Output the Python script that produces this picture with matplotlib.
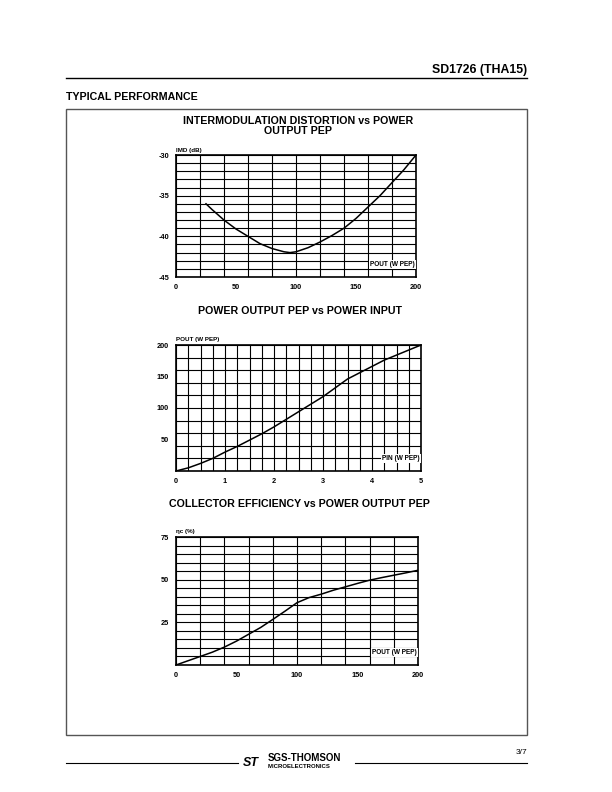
import matplotlib.pyplot as plt
from matplotlib.lines import Line2D
from matplotlib.patches import Rectangle

plt.rcParams['font.family'] = ['Liberation Sans', 'DejaVu Sans']

# IMD vs Pout
imd_pout = [25, 30, 40, 50, 60, 70, 80, 90, 95, 100, 110, 120, 130, 140, 150,
            160, 170, 180, 190, 200]
imd_db = [-36, -36.7, -38, -39.1, -40, -40.9, -41.5, -41.9, -42, -41.9, -41.4,
          -40.7, -39.9, -39, -37.8, -36.4, -35, -33.4, -31.8, -30]

# Pout vs Pin
pin_w = [0, 0.25, 0.5, 0.75, 1, 1.25, 1.5, 1.75, 2, 2.25, 2.5, 2.75, 3, 3.25,
         3.5, 3.75, 4, 4.25, 4.5, 4.75, 5]
pout_w = [0, 5, 12, 20, 30, 39, 49, 59, 70, 82, 94, 106, 118, 132, 146, 156,
          166, 176, 184, 192, 200]

# collector efficiency vs Pout
eff_pout = [0, 10, 20, 30, 40, 50, 60, 70, 80, 90, 100, 110, 120, 130, 140,
            150, 160, 170, 180, 190, 200]
eff_pct = [0, 2.5, 5, 7.5, 10.5, 14, 18, 22, 26.7, 31.5, 36.5, 39.5, 41.5,
           43.8, 45.8, 47.8, 49.7, 51.2, 52.6, 54, 55.5]

W, H = 612, 792
fig = plt.figure(figsize=(W / 100, H / 100), dpi=100)


def box(l, t, r, b):
    return [l / W, 1 - b / H, (r - l) / W, (b - t) / H]


def fx(x):
    return x / W


def fy(y):
    return 1 - y / H


def chart(rect, x, y, xlim, ylim, xstep, ystep, xticks, yticks, ylab, xlab, title, ty):
    ax = fig.add_axes(box(*rect))
    ax.plot(x, y, color='black', lw=1.1)
    ax.set_xlim(xlim)
    ax.set_ylim(ylim)
    v = xlim[0]
    while v <= xlim[1] + 1e-9:
        ax.axvline(v, color='black', lw=0.8)
        v += xstep
    v = ylim[0]
    while v <= ylim[1] + 1e-9:
        ax.axhline(v, color='black', lw=0.8)
        v += ystep
    ax.set_xticks(xticks)
    ax.set_yticks(yticks)
    ax.set_xticklabels([str(t) for t in xticks], fontsize=5.3, fontweight='bold')
    ax.set_yticklabels([str(t) for t in yticks], fontsize=5.3, fontweight='bold')
    ax.tick_params(length=0, pad=5)
    for s in ax.spines.values():
        s.set_linewidth(1.2)
    ax.text(0.0, 1.02, ylab, transform=ax.transAxes, fontsize=4.5,
            fontweight='bold', ha='left', va='bottom')
    ax.text(0.995, 0.10, xlab, transform=ax.transAxes, fontsize=4.7,
            fontweight='bold', ha='right', va='center',
            bbox=dict(facecolor='white', edgecolor='none', pad=0.6))
    fig.text(fx((rect[0] + rect[2]) / 2 + 2), fy(ty), title, fontsize=7.7,
             fontweight='bold', ha='center', va='bottom', linespacing=0.95)
    return ax


chart((176, 155, 416, 277), imd_pout, imd_db, (0, 200), (-45, -30), 20, 1,
      [0, 50, 100, 150, 200], [-45, -40, -35, -30], 'IMD (dB)', 'POUT (W PEP)',
      'INTERMODULATION DISTORTION vs POWER\nOUTPUT PEP', 136)
chart((176, 345, 421, 471), pin_w, pout_w, (0, 5), (0, 200), 0.25, 20,
      [0, 1, 2, 3, 4, 5], [50, 100, 150, 200], 'POUT (W PEP)', 'PIN (W PEP)',
      'POWER OUTPUT PEP vs POWER INPUT', 316)
chart((176, 537, 418, 665), eff_pout, eff_pct, (0, 200), (0, 75), 20, 5,
      [0, 50, 100, 150, 200], [25, 50, 75], 'ηc (%)', 'POUT (W PEP)',
      'COLLECTOR EFFICIENCY vs POWER OUTPUT PEP', 509)

# page decorations
fig.text(fx(527), fy(70), 'SD1726 (THA15)', fontsize=8.8, fontweight='bold',
         ha='right', va='center')
fig.add_artist(Line2D([fx(66), fx(527)], [fy(78), fy(78)], color='black', lw=1))
fig.text(fx(66), fy(97), 'TYPICAL PERFORMANCE', fontsize=7.7, fontweight='bold',
         ha='left', va='center')
fig.add_artist(Rectangle((fx(66), fy(735)), fx(527) - fx(66), fy(109) - fy(735),
                         transform=fig.transFigure, fill=False,
                         edgecolor='#555555', lw=1))

fig.add_artist(Line2D([fx(66), fx(238)], [fy(763), fy(763)], color='black', lw=0.8))
fig.add_artist(Line2D([fx(355), fx(527)], [fy(763), fy(763)], color='black', lw=0.8))
fig.text(fx(243), fy(763), 'ST', fontsize=9, fontweight='bold', style='italic',
         ha='left', va='center')
fig.text(fx(268), fy(758), 'SGS-THOMSON', fontsize=7, fontweight='bold',
         ha='left', va='center')
fig.text(fx(268), fy(767), 'MICROELECTRONICS', fontsize=4.3, fontweight='bold',
         ha='left', va='center')
fig.text(fx(527), fy(753), '3/7', fontsize=6, ha='right', va='center')

fig.savefig('out.png', dpi=100)
